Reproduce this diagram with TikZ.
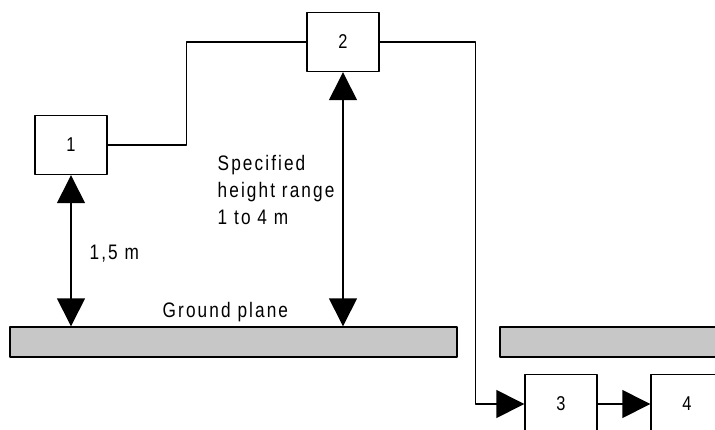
\documentclass[tikz,border=0pt]{standalone}
\usepackage{fontspec}
\setmainfont{Liberation Sans}[FakeStretch=0.82,LetterSpace=10]
\usetikzlibrary{arrows.meta}
\begin{document}
\begin{tikzpicture}[x=1pt, y=-1pt, line join=round, line width=1.4pt, >={Triangle[length=28pt,width=28pt]},
  box/.style={draw, minimum width=72pt, minimum height=59pt, inner sep=0pt, font=\fontsize{20}{20}\selectfont},
  ground/.style={draw, fill=black!22, minimum height=30pt, inner sep=0pt},
  lbl/.style={inner sep=0pt, font=\fontsize{21}{27}\selectfont}]
\clip (0,0) rectangle (715,429);
% measuring points and ground planes
\node[box] (b1) at (71,145) {1};
\node[box] (b2) at (343,42) {2};
\node[box] (b3) at (561,404) {3};
\node[box] (b4) at (687,404) {4};
\node[ground, minimum width=447pt] (gnd1) at (233.5,342) {};
\node[ground, minimum width=260pt] (gnd2) at (630,342) {};
% connections
\draw (b1.east) -- ++(79,0) |- (b2.west);
\draw[->] (b2.east) -- ++(96,0) |- (b3.west);
\draw[->] (b3) -- (b4);
% heights
\foreach \b in {b1,b2}
\draw[<->] (\b.south) -- (\b.south |- gnd1.north);
\node[lbl, anchor=base west] (h1) at (89,259) {1,5 m};
\node[lbl, anchor=north west, align=left] (hr) at (217,155) {Specified\\height range\\1 to 4 m};
\node[lbl, anchor=base west] (gp) at (162,317) {Ground plane};
\end{tikzpicture}
\end{document}
